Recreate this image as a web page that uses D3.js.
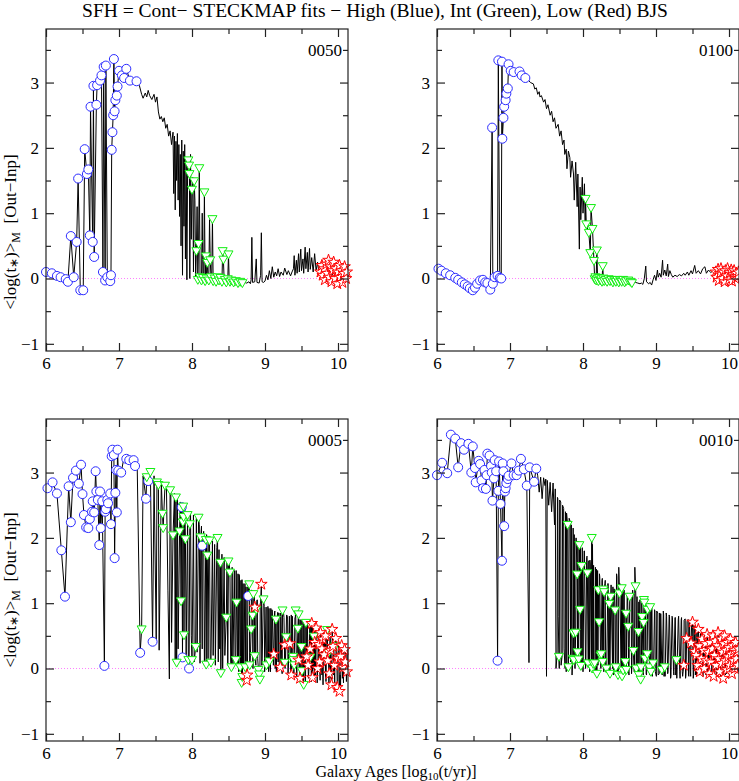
<!DOCTYPE html>
<meta charset="utf-8">
<style>
 body { margin: 0; background: #fff; }
 svg text { font-family: "Liberation Serif", "Times New Roman", serif; fill: #000; }
 .frame { fill: none; stroke: #222; stroke-width: 1.2; }
 .sfh { fill: none; stroke: #000; stroke-width: 1; stroke-linejoin: miter; }
 .zero { stroke: #ff80ff; stroke-width: 1; stroke-dasharray: 1,2; }
 .high { fill: #fff; stroke: #2c2cff; stroke-width: 1; }
 .mid { fill: #fff; stroke: #11ee11; stroke-width: 1; }
 .low { fill: #fff; stroke: #ff0000; stroke-width: 1; }
</style>
<body>
<script src="https://cdn.jsdelivr.net/npm/d3@7"></script>
<script>

// tick values
var xMajor = [6, 7, 8, 9, 10],
    xMinor = [6.5, 7.5, 8.5, 9.5],
    yMajor = [-1, 0, 1, 2, 3],
    yMinor = [-0.5, 0.5, 1.5, 2.5, 3.5];

// ---- 0050 : [log age, <log t>M out-inp] ----
var line0050 = [[7.28,2.95],[7.31,2.82],[7.33,2.76],[7.36,2.84],[7.38,2.78],[7.40,2.88],[7.42,2.80],[7.45,2.74],[7.48,2.82],[7.50,2.70],[7.52,2.78],[7.54,2.55],[7.56,2.44],[7.58,2.48],[7.60,2.40],[7.62,2.46],[7.64,2.30],[7.66,2.36],[7.68,2.18],[7.70,2.26],[7.72,2.05],[7.74,2.24],[7.75,1.30],[7.76,2.18],[7.77,1.05],[7.78,2.10],[7.79,1.50],[7.80,2.22],[7.81,1.20],[7.82,2.05],[7.83,0.95],[7.84,1.90],[7.85,0.50],[7.86,2.12],[7.87,0.05],[7.88,1.95],[7.89,0.80],[7.90,2.05],[7.91,0.30],[7.92,1.85],[7.93,-0.02],[7.94,1.70],[7.97,0.00],[7.98,1.90],[7.99,0.60],[8.01,1.55],[8.02,0.10],[8.04,1.20],[8.05,0.00],[8.07,1.10],[8.12,0.05],[8.14,1.00],[8.16,0.02],[8.22,0.02],[8.24,0.90],[8.27,0.00],[8.30,0.02],[8.44,0.00],[8.51,-0.04],
  [8.72,-0.06],[8.75,-0.07],[8.78,-0.05],[8.80,-0.08],[8.81,-0.02],[8.82,0.63],[8.83,-0.06],[8.86,-0.05],[8.88,0.30],[8.89,-0.06],[8.92,-0.07],[8.94,0.05],[8.95,0.70],[8.96,-0.05],[8.98,-0.06],[9.00,-0.04],[9.02,0.05],[9.04,-0.02],[9.06,0.12],[9.08,0.00],[9.10,0.18],[9.12,0.02],[9.14,0.10],[9.16,0.04],[9.18,0.15],[9.20,0.03],[9.22,0.10],[9.25,0.05],[9.27,0.16],[9.30,0.06],[9.32,0.12],[9.35,0.04],[9.37,0.10],[9.39,0.15],[9.40,0.35],[9.41,0.05],[9.43,0.28],[9.44,0.08],[9.46,0.38],[9.47,0.10],[9.49,0.45],[9.50,0.12],[9.52,0.30],[9.53,0.08],[9.55,0.48],[9.56,0.15],[9.58,0.40],[9.59,0.10],[9.61,0.46],[9.62,0.14],[9.64,0.32],[9.66,0.10],[9.68,0.38],[9.70,0.12],[9.72,0.25],[9.74,0.08]];
var high0050 = [[6.00,0.10],[6.08,0.08],[6.15,0.04],[6.20,0.02],[6.27,-0.01],[6.30,-0.05],[6.34,0.65],[6.38,0.02],[6.42,0.56],[6.44,1.53],[6.47,-0.18],[6.51,-0.18],[6.53,1.98],[6.56,1.60],[6.58,1.67],[6.60,0.66],[6.61,2.63],[6.64,0.56],[6.65,2.95],[6.66,0.33],[6.69,2.66],[6.70,2.96],[6.74,3.03],[6.76,3.11],[6.78,0.10],[6.79,3.24],[6.81,-0.03],[6.82,3.26],[6.84,0.02],[6.88,-0.04],[6.89,0.05],[6.90,1.97],[6.91,2.24],[6.92,2.50],[6.93,3.36],[6.94,2.56],[6.95,2.73],[6.97,2.80],[6.98,2.94],[7.00,3.18],[7.04,3.11],[7.07,3.07],[7.10,3.21],[7.15,3.03],[7.24,3.02]];
var mid0050 = [[7.95,1.81],[7.96,1.73],[7.965,1.60],[8.00,1.36],[8.03,1.49],[8.06,0.42],[8.08,-0.02],[8.09,0.53],[8.10,1.69],[8.11,0.02],[8.13,-0.03],[8.15,0.01],[8.17,1.32],[8.18,-0.04],[8.19,0.34],[8.20,0.00],[8.21,0.24],[8.23,-0.03],[8.25,0.28],[8.26,0.02],[8.28,0.91],[8.29,-0.04],[8.31,0.00],[8.33,-0.05],[8.35,0.02],[8.37,-0.03],[8.39,0.01],[8.41,-0.05],[8.42,0.42],[8.43,0.29],[8.45,-0.02],[8.47,-0.06],[8.49,-0.01],[8.50,0.37],[8.52,-0.05],[8.54,-0.03],[8.57,-0.06],[8.60,-0.04],[8.63,-0.07],[8.66,-0.05],[8.69,-0.07]];
var low0050 = [[9.76,0.10],[9.78,0.20],[9.79,0.05],[9.81,0.15],[9.82,-0.02],[9.84,0.22],[9.85,0.08],[9.87,0.28],[9.88,0.02],[9.90,0.18],[9.91,-0.05],[9.93,0.12],[9.94,0.25],[9.96,0.00],[9.97,0.15],[9.99,-0.08],[10.00,0.10],[10.02,0.20],[10.03,0.02],[10.05,0.12],[10.06,-0.06],[10.08,0.08],[10.09,0.18],[10.11,0.00],[10.12,0.10]];

// ---- 0100 ----
var line0100 = [[7.25,3.04],[7.28,3.00],[7.32,2.98],[7.34,2.90],[7.36,2.92],[7.38,2.82],[7.40,2.86],[7.41,2.78],[7.43,2.80],[7.46,2.70],[7.48,2.74],[7.50,2.60],[7.52,2.66],[7.55,2.50],[7.57,2.56],[7.59,2.40],[7.61,2.46],[7.63,2.30],[7.66,2.36],[7.68,2.18],[7.70,2.26],[7.72,2.05],[7.74,2.12],[7.75,1.90],[7.77,1.98],[7.78,1.68],[7.80,1.95],[7.82,1.85],[7.83,1.55],[7.85,1.80],[7.87,1.60],[7.88,1.20],[7.90,1.78],[7.92,1.10],[7.93,1.60],[7.95,0.45],[7.96,1.40],[7.97,0.90],[7.99,1.55],[8.00,1.00],[8.02,1.45],[8.03,0.80],
  [8.69,-0.05],[8.72,-0.06],[8.75,-0.07],[8.78,-0.08],[8.80,-0.07],[8.82,-0.09],[8.84,0.00],[8.86,0.19],[8.87,-0.05],[8.90,-0.08],[8.92,-0.06],[8.94,-0.10],[8.96,-0.02],[8.98,0.05],[9.00,-0.03],[9.02,0.13],[9.03,0.02],[9.05,0.08],[9.07,0.02],[9.09,0.28],[9.10,0.05],[9.12,0.13],[9.14,0.04],[9.16,0.22],[9.17,0.03],[9.19,0.12],[9.21,0.06],[9.23,0.02],[9.26,0.05],[9.29,0.03],[9.32,0.06],[9.35,0.04],[9.38,0.08],[9.40,0.05],[9.43,0.10],[9.45,0.05],[9.48,0.12],[9.50,0.07],[9.53,0.20],[9.55,0.08],[9.58,0.12],[9.61,0.07],[9.64,0.15],[9.67,0.18],[9.69,0.08],[9.72,0.13],[9.75,0.09],[9.78,0.12],[9.80,0.08]];
var high0100 = [[6.02,0.15],[6.06,0.12],[6.12,0.08],[6.18,0.05],[6.25,0.01],[6.29,-0.02],[6.34,-0.06],[6.38,-0.09],[6.42,-0.12],[6.45,-0.15],[6.49,-0.18],[6.52,-0.14],[6.55,-0.08],[6.59,-0.03],[6.63,-0.02],[6.66,-0.06],[6.69,-0.07],[6.73,-0.17],[6.755,2.31],[6.765,-0.08],[6.79,0.02],[6.83,0.04],[6.84,3.34],[6.86,0.01],[6.88,0.00],[6.89,3.32],[6.895,2.14],[6.91,2.46],[6.92,2.63],[6.94,2.73],[6.95,2.83],[6.97,2.91],[6.98,3.28],[7.01,3.18],[7.05,3.16],[7.13,3.17],[7.16,3.11],[7.21,3.07]];
var mid0100 = [[8.035,1.22],[8.045,0.83],[8.08,0.70],[8.10,0.39],[8.11,1.08],[8.13,0.76],[8.15,0.27],[8.16,-0.01],[8.17,0.02],[8.18,-0.03],[8.19,0.43],[8.20,0.00],[8.21,-0.04],[8.22,0.01],[8.24,-0.03],[8.25,-0.01],[8.26,-0.05],[8.27,0.19],[8.28,0.00],[8.29,-0.04],[8.31,-0.02],[8.33,-0.05],[8.35,-0.01],[8.37,-0.04],[8.39,-0.02],[8.41,-0.06],[8.43,-0.03],[8.45,-0.05],[8.47,-0.02],[8.49,-0.06],[8.51,-0.03],[8.53,-0.05],[8.55,-0.02],[8.57,-0.06],[8.59,-0.04],[8.62,-0.03],[8.65,-0.05],[8.67,-0.07]];
var low0100 = [[9.82,0.10],[9.83,0.02],[9.85,0.14],[9.86,-0.03],[9.88,0.08],[9.89,0.15],[9.91,0.00],[9.92,0.10],[9.94,-0.05],[9.95,0.12],[9.97,0.04],[9.98,0.15],[10.00,-0.02],[10.01,0.09],[10.03,0.13],[10.04,-0.04],[10.06,0.06],[10.07,0.12],[10.09,0.00],[10.10,0.08],[10.12,0.03],[10.13,0.10]];

// ---- 0005 ----
var line0005 = [[7.06,3.18],[7.17,3.20],[7.25,3.05],[7.33,2.95],[7.48,2.95],[7.51,0.45],[7.535,2.88],[7.55,0.28],[7.58,2.85],[7.65,2.78],[7.67,1.20],[7.69,-0.16],[7.71,2.70],[7.72,0.40],[7.76,2.68],[7.77,0.10],[7.80,2.60],[7.81,0.30],[7.84,2.55],[7.90,2.50],[7.92,0.20],[7.98,2.40],[7.99,0.50],[8.02,2.35],[8.03,0.10],[8.06,2.30],[8.07,0.25],[8.10,2.20],[8.11,0.08],[8.13,2.18],[8.14,0.30],[8.16,2.10],[8.17,0.05],[8.20,2.05],[8.22,0.15],[8.23,2.00],[8.25,0.10],[8.28,1.95],[8.29,0.20],[8.31,1.90],[8.32,0.05],[8.34,1.85],[8.36,0.10],[8.37,1.82],[8.38,0.30],[8.41,1.75],[8.42,0.00],[8.44,1.70],[8.45,0.20],[8.48,1.68],[8.49,0.05],[8.51,1.60],[8.53,0.10],[8.55,1.55],[8.56,0.00],[8.58,1.50],[8.59,0.15],[8.63,1.45],[8.64,-0.05],[8.65,1.40],[8.67,1.35],[8.70,1.30],[8.71,0.10],[8.74,1.25],[8.76,0.00],[8.78,1.30],[8.80,0.20],[8.82,1.20],[8.85,1.10],[8.87,0.10],[8.89,1.05],[8.90,0.15],[8.94,1.00],[8.96,0.05],[8.99,0.95],[9.00,0.10],[9.04,0.95],[9.05,-0.05],[9.08,0.92],[9.09,0.10],[9.10,0.88],[9.13,0.85],[9.14,0.00],[9.17,0.82],[9.18,0.10],[9.19,0.85],[9.22,0.80],[9.23,0.00],[9.26,0.78],[9.28,0.12],[9.31,0.80],[9.32,0.00],[9.36,0.82],[9.37,0.05],[9.41,0.78],[9.43,0.10],[9.48,0.75],[9.49,0.00],[9.52,0.72],[9.54,0.05],[9.58,0.70],[9.60,-0.05],[9.63,0.68],[9.66,0.00],[9.68,0.62],[9.69,-0.10],[9.71,0.60],[9.73,-0.05],[9.77,0.58],[9.78,-0.10],[9.80,0.55],[9.83,-0.12],[9.84,0.50],[9.89,0.48],[9.90,-0.15],[9.92,0.45],[9.94,-0.10],[9.98,0.42],[10.00,-0.20],[10.01,0.40],[10.03,-0.10],[10.05,0.38],[10.06,-0.15],[10.08,0.35],[10.10,-0.10],[10.11,0.30],[10.13,0.00],
  [8.605,1.50],[8.625,0.05],[8.645,1.44],[8.665,0.00],[8.685,1.36],[8.705,0.05],[8.725,1.30],[8.745,0.00],[8.765,1.25],[8.795,0.05],[8.815,1.20],[8.835,0.00],[8.855,1.12],[8.875,0.05],[8.895,1.05],[8.915,0.00],[8.935,1.00],[8.955,0.05],[8.975,0.96],[8.995,-0.05],[9.015,0.94],[9.035,0.00],[9.055,0.92],[9.075,-0.05],[9.095,0.90],[9.115,0.05],[9.135,0.88],[9.155,-0.05],[9.175,0.86],[9.195,0.00],[9.215,0.85],[9.235,-0.08],[9.255,0.84],[9.275,0.00],[9.295,0.82],[9.315,-0.10],[9.335,0.80],[9.355,-0.05],[9.375,0.80],[9.395,-0.10],[9.415,0.78],[9.435,-0.15],[9.455,0.76],[9.475,-0.10],[9.495,0.74],[9.515,-0.15],[9.535,0.72],[9.555,-0.20],[9.575,0.70],[9.595,-0.15],[9.615,0.68],[9.635,-0.20],[9.655,0.64],[9.675,-0.15],[9.695,0.60],[9.715,-0.22],[9.735,0.58],[9.755,-0.18],[9.775,0.55],[9.795,-0.25],[9.815,0.52],[9.835,-0.20],[9.855,0.50],[9.875,-0.25],[9.895,0.46],[9.915,-0.28],[9.935,0.44],[9.955,-0.22],[9.975,0.42],[9.995,-0.28],[10.015,0.40],[10.035,-0.30],[10.055,0.36],[10.075,-0.22],[10.095,0.34],[10.115,-0.20],[10.135,0.30]];
var high0005 = [[6.02,2.76],[6.09,2.85],[6.15,2.68],[6.21,1.81],[6.26,1.10],[6.31,2.79],[6.34,2.24],[6.37,2.92],[6.41,3.03],[6.45,2.83],[6.48,3.12],[6.50,2.67],[6.52,2.35],[6.55,2.16],[6.58,2.15],[6.60,2.29],[6.63,2.40],[6.64,2.56],[6.66,2.39],[6.68,3.02],[6.69,2.71],[6.71,2.58],[6.73,1.89],[6.74,2.71],[6.75,2.15],[6.77,2.56],[6.80,0.04],[6.81,2.40],[6.82,2.44],[6.84,2.58],[6.85,2.53],[6.88,2.68],[6.89,2.21],[6.90,3.25],[6.91,3.35],[6.93,3.27],[6.94,1.69],[6.95,2.69],[6.96,3.04],[6.97,2.39],[6.98,3.35],[6.99,3.03],[7.03,3.00],[7.10,3.21],[7.14,3.19],[7.20,3.19],[7.22,3.10],[7.29,0.24],[7.37,2.60],[7.40,2.87],[7.46,0.41],[7.86,2.47],[7.87,0.17],[7.96,0.00],[8.14,1.88],[8.77,1.11]];
var mid0005 = [[7.31,0.60],[7.38,2.93],[7.43,3.01],[7.52,2.85],[7.54,2.81],[7.595,2.37],[7.605,2.15],[7.63,2.80],[7.70,2.73],[7.74,2.04],[7.78,2.62],[7.79,0.09],[7.83,2.10],[7.85,1.03],[7.875,2.24],[7.88,2.48],[7.885,2.32],[7.89,0.51],[7.91,1.98],[7.94,2.35],[7.95,0.13],[7.97,2.21],[8.00,0.13],[8.05,0.33],[8.09,2.31],[8.12,2.01],[8.19,1.97],[8.195,0.06],[8.21,1.73],[8.24,1.96],[8.26,0.09],[8.35,2.00],[8.39,1.62],[8.395,-0.07],[8.47,0.78],[8.50,1.64],[8.52,1.47],[8.54,0.02],[8.60,0.13],[8.61,1.01],[8.66,0.02],[8.68,-0.22],[8.69,-0.13],[8.73,0.02],[8.785,1.29],[8.79,0.05],[8.81,0.60],[8.83,0.81],[8.84,1.14],[8.86,0.19],[8.88,0.90],[8.91,-0.02],[8.92,-0.09],[8.93,-0.17],[8.98,1.06],[9.02,0.05],[9.06,0.11],[9.15,0.75],[9.24,0.89],[9.27,0.09],[9.29,0.48],[9.385,0.18],[9.39,0.13],[9.40,0.05],[9.42,0.89],[9.45,0.61],[9.46,0.83],[9.50,0.33],[9.505,-0.04],[9.53,-0.25],[9.56,0.70],[9.62,0.17],[9.67,0.49],[9.85,0.59],[9.87,0.24],[9.96,0.34]];
var low0005 = [[8.75,-0.18],[8.755,-0.10],[8.86,0.94],[8.95,1.29],[9.12,0.22],[9.21,0.02],[9.27,0.36],[9.34,0.38],[9.36,-0.10],[9.46,0.13],[9.48,-0.15],[9.57,0.18],[9.59,0.05],[9.62,0.30],[9.64,0.69],[9.65,-0.14],[9.68,0.40],[9.70,0.62],[9.72,0.00],[9.74,0.37],[9.75,0.10],[9.76,0.55],[9.78,0.30],[9.79,0.45],[9.81,0.21],[9.83,0.50],[9.86,0.12],[9.88,-0.08],[9.90,0.28],[9.91,-0.25],[9.92,0.60],[9.93,0.34],[9.95,0.05],[9.97,0.46],[9.99,-0.29],[10.00,0.15],[10.02,-0.35],[10.04,0.19],[10.05,0.35],[10.07,0.02],[10.09,0.29],[10.10,0.10],[10.12,-0.05]];

// ---- 0010 ----
var line0010 = [[7.26,0.09],[7.38,2.95],[7.40,2.70],[7.42,2.93],[7.44,2.60],[7.46,2.92],[7.48,2.80],[7.49,2.90],[7.50,-0.12],[7.51,2.88],[7.53,2.50],[7.55,2.85],[7.57,2.40],[7.59,2.84],[7.61,2.20],[7.62,2.75],[7.63,0.00],[7.65,2.62],[7.66,0.80],[7.68,2.58],[7.70,0.05],[7.72,2.50],[7.74,0.30],[7.76,2.40],[7.77,-0.05],[7.81,2.30],[7.83,0.10],[7.84,2.20],[7.85,-0.10],[7.88,2.05],[7.89,0.00],[7.93,1.95],[7.99,1.85],[8.00,-0.05],[8.02,1.80],[8.04,0.10],[8.05,1.70],[8.08,1.65],[8.09,-0.05],[8.10,1.60],[8.13,1.90],[8.15,0.00],[8.17,1.55],[8.18,-0.08],[8.20,1.50],[8.23,1.40],[8.26,1.35],[8.30,1.30],[8.31,-0.05],[8.34,1.30],[8.35,0.00],[8.41,1.25],[8.42,-0.10],[8.43,1.20],[8.46,1.45],[8.47,0.00],[8.49,1.55],[8.52,0.05],[8.56,1.20],[8.57,-0.05],[8.61,1.15],[8.63,-0.10],[8.66,1.15],[8.67,0.05],[8.68,1.20],[8.70,-0.05],[8.71,1.55],[8.74,1.10],[8.75,-0.12],[8.78,1.05],[8.80,-0.05],[8.86,1.10],[8.87,-0.10],[8.90,1.00],[8.94,0.95],[8.95,-0.12],[8.98,0.90],[8.99,-0.05],[9.01,0.88],[9.03,-0.10],[9.05,0.85],[9.06,-0.05],[9.10,0.88],[9.11,-0.12],[9.14,0.85],[9.16,-0.08],[9.18,0.82],[9.20,-0.15],[9.22,0.80],[9.24,-0.05],[9.26,0.78],[9.27,-0.10],[9.31,0.80],[9.33,-0.15],[9.35,0.78],[9.36,-0.05],[9.40,0.76],[9.41,-0.10],[9.44,0.75],[9.45,-0.12],[9.46,0.70],[9.47,-0.05],[9.49,0.72],[9.51,-0.15],[9.52,0.68],[9.54,-0.10],[9.56,0.62],[9.61,0.58],[9.64,-0.12],[9.67,0.55],[9.71,-0.10],[9.76,0.50],[9.83,-0.12],[9.87,0.48],[9.95,-0.10],[10.00,0.45],[10.05,-0.05],[10.08,0.40],[10.12,0.00],
  [7.645,0.20],[7.655,2.60],[7.675,0.00],[7.695,2.55],[7.715,0.20],[7.735,2.45],[7.755,0.00],[7.775,2.38],[7.795,0.10],[7.825,2.25],[7.845,0.50],[7.865,2.15],[7.895,0.30],[7.905,2.00],[7.935,0.10],[7.965,1.90],[7.985,0.00],[8.015,1.80],[8.035,0.00],[8.055,1.72],[8.075,0.10],[8.095,1.66],[8.115,0.00],[8.145,1.58],[8.165,-0.05],[8.185,1.52],[8.205,0.05],[8.225,1.45],[8.245,0.00],[8.265,1.38],[8.285,-0.05],[8.305,1.35],[8.325,-0.05],[8.345,1.30],[8.365,0.05],[8.385,1.28],[8.405,0.00],[8.425,1.22],[8.445,0.00],[8.465,1.40],[8.485,0.00],[8.505,1.30],[8.525,0.00],[8.545,1.22],[8.565,1.20],[8.585,-0.05],[8.605,1.15],[8.625,-0.05],[8.645,1.12],[8.665,-0.08],[8.685,1.10],[8.705,-0.05],[8.725,1.05],[8.745,0.00],[8.765,1.02],[8.785,-0.08],[8.805,1.00],[8.825,-0.10],[8.845,0.95],[8.865,-0.08],[8.895,0.92],[8.915,-0.10],[8.945,0.90],[8.965,-0.05],[8.985,0.88],[9.005,-0.12],[9.025,0.85],[9.045,-0.08],[9.065,0.84],[9.085,-0.10],[9.105,0.82],[9.125,-0.12],[9.145,0.80],[9.165,-0.05],[9.185,0.80],[9.205,-0.12],[9.225,0.78],[9.245,-0.10],[9.265,0.78],[9.285,-0.15],[9.305,0.75],[9.325,-0.05],[9.345,0.74],[9.365,-0.12],[9.385,0.74],[9.405,-0.15],[9.425,0.72],[9.445,-0.10],[9.455,0.70],[9.475,-0.12],[9.495,0.66],[9.515,-0.10],[9.535,0.62],[9.555,-0.12],[9.575,0.58],[9.595,-0.10],[9.625,0.55],[9.645,-0.12],[9.665,0.50],[9.685,-0.10],[9.705,0.48],[9.725,-0.12],[9.745,0.45],[9.765,-0.08],[9.785,0.42],[9.805,-0.12],[9.825,0.40],[9.845,-0.10],[9.865,0.38],[9.885,-0.12],[9.905,0.36],[9.925,-0.10],[9.945,0.35],[9.965,-0.08],[9.985,0.34],[10.005,-0.10],[10.025,0.32],[10.045,-0.08],[10.065,0.30],[10.085,-0.05],[10.105,0.28],[10.125,-0.05]];
var high0010 = [[6.00,2.96],[6.07,3.15],[6.14,2.99],[6.19,3.58],[6.25,3.52],[6.29,3.08],[6.33,3.45],[6.37,3.35],[6.43,3.44],[6.47,3.00],[6.49,3.40],[6.52,3.07],[6.53,2.85],[6.57,3.18],[6.59,3.13],[6.61,2.88],[6.63,2.76],[6.65,3.04],[6.67,2.75],[6.68,2.96],[6.69,3.29],[6.72,3.26],[6.74,3.10],[6.75,3.00],[6.76,2.57],[6.78,2.91],[6.79,3.19],[6.81,3.02],[6.83,0.12],[6.84,2.72],[6.85,3.17],[6.87,2.52],[6.89,1.65],[6.90,3.14],[6.91,3.02],[6.92,2.18],[6.93,2.71],[6.94,2.76],[6.95,2.84],[6.97,2.90],[6.98,2.95],[7.02,3.14],[7.05,2.96],[7.09,2.96],[7.12,3.03],[7.15,3.21],[7.19,3.05],[7.23,2.80],[7.27,3.08],[7.33,2.86],[7.36,3.06]];
var mid0010 = [[7.67,0.18],[7.79,2.20],[7.80,0.02],[7.86,0.15],[7.87,0.54],[7.875,0.13],[7.90,0.55],[7.92,1.44],[7.925,0.25],[7.94,0.14],[7.95,1.89],[7.96,0.90],[7.97,0.04],[7.98,1.57],[8.06,1.46],[8.07,0.08],[8.12,2.00],[8.125,0.00],[8.14,0.07],[8.16,0.08],[8.19,-0.08],[8.21,1.20],[8.22,0.71],[8.24,0.20],[8.25,0.22],[8.27,0.10],[8.28,1.21],[8.29,1.17],[8.32,0.00],[8.36,0.99],[8.37,-0.08],[8.38,1.10],[8.44,0.89],[8.45,0.02],[8.48,-0.10],[8.50,1.15],[8.53,1.23],[8.535,-0.12],[8.55,-0.03],[8.58,0.10],[8.59,0.84],[8.595,-0.02],[8.62,0.64],[8.64,1.10],[8.69,0.27],[8.72,1.26],[8.73,0.00],[8.76,0.56],[8.765,-0.10],[8.79,-0.17],[8.795,0.02],[8.81,0.79],[8.83,0.70],[8.835,1.05],[8.84,1.01],[8.85,0.15],[8.88,0.22],[8.885,0.90],[8.91,0.02],[8.92,0.94],[8.93,-0.05],[8.96,0.08],[9.08,-0.02],[9.12,0.02],[9.28,0.13]];
var low0010 = [[9.38,0.05],[9.42,0.46],[9.48,0.39],[9.50,0.71],[9.53,0.26],[9.55,0.20],[9.57,0.05],[9.58,0.60],[9.59,0.35],[9.60,-0.05],[9.62,0.15],[9.63,0.45],[9.65,0.28],[9.66,0.00],[9.68,0.38],[9.69,0.12],[9.70,0.52],[9.72,0.25],[9.73,-0.08],[9.74,0.40],[9.75,0.10],[9.77,0.30],[9.78,0.50],[9.79,-0.12],[9.80,0.20],[9.81,0.42],[9.82,0.05],[9.84,0.35],[9.85,0.55],[9.86,0.15],[9.87,-0.05],[9.88,0.30],[9.89,0.45],[9.90,0.08],[9.91,0.25],[9.92,-0.15],[9.93,0.38],[9.94,0.50],[9.95,0.12],[9.96,0.28],[9.97,-0.02],[9.98,0.40],[9.99,0.18],[10.00,0.32],[10.01,0.05],[10.02,0.45],[10.03,0.22],[10.04,-0.08],[10.05,0.35],[10.06,0.12],[10.07,0.28],[10.08,0.00],[10.09,0.40],[10.10,0.15],[10.11,0.25],[10.12,0.05],[10.13,0.30]];

var panelW = 302, panelH = 322;

var panels = [
  {name: "0050", left: 46,  top: 29,  line: line0050, high: high0050, mid: mid0050, low: low0050},
  {name: "0100", left: 437, top: 29,  line: line0100, high: high0100, mid: mid0100, low: low0100},
  {name: "0005", left: 46,  top: 419, line: line0005, high: high0005, mid: mid0005, low: low0005},
  {name: "0010", left: 437, top: 419, line: line0010, high: high0010, mid: mid0010, low: low0010}
];

var svg = d3.select("body").append("svg")
            .attr("width", 739)
            .attr("height", 781)
            .attr("font-family", "'Liberation Serif', 'Times New Roman', serif");

var fmt = d3.format("d");
var triDown = "M-4.5,-3.4L4.5,-3.4L0,4.5Z";
var star = d3.symbol().type(d3.symbolStar).size(42)();

panels.forEach(function(p) {
    var x = d3.scaleLinear().domain([6, 10.137]).range([0, panelW]);
    var y = d3.scaleLinear().domain([-1.11, 3.82]).range([panelH, 0]);

    var g = svg.append("g")
               .attr("transform", "translate(" + p.left + "," + p.top + ")");

    // zero reference
    g.append("line")
     .attr("class", "zero")
     .attr("x1", x(6)).attr("x2", x(10.137))
     .attr("y1", y(0)).attr("y2", y(0));

    // all points joined in age order
    var pts = p.line.concat(p.high, p.mid, p.low)
                    .sort(function(a, b) { return a[0] - b[0]; });

    g.append("path")
     .datum(pts)
     .attr("class", "sfh")
     .attr("d", d3.line()
                  .x(function(d) { return x(d[0]); })
                  .y(function(d) { return y(d[1]); }));

    g.selectAll(".high").data(p.high).enter().append("circle")
     .attr("class", "high")
     .attr("cx", function(d) { return x(d[0]); })
     .attr("cy", function(d) { return y(d[1]); })
     .attr("r", 4.5);

    g.selectAll(".mid").data(p.mid).enter().append("path")
     .attr("class", "mid")
     .attr("d", triDown)
     .attr("transform", function(d) { return "translate(" + x(d[0]) + "," + y(d[1]) + ")"; });

    g.selectAll(".low").data(p.low).enter().append("path")
     .attr("class", "low")
     .attr("d", star)
     .attr("transform", function(d) { return "translate(" + x(d[0]) + "," + y(d[1]) + ")"; });

    // ticks, all pointing inwards
    function addAxis(axis, tx, ty, labels) {
        var a = g.append("g")
                 .attr("transform", "translate(" + tx + "," + ty + ")")
                 .call(axis);
        a.attr("font-family", null).attr("font-size", 17).attr("color", "#222");
        a.select(".domain").remove();
        a.selectAll("line").attr("stroke-width", 1.2);
        if (!labels) a.selectAll("text").remove();
    }

    addAxis(d3.axisBottom(x).tickValues(xMajor).tickSize(-8).tickPadding(6).tickFormat(fmt), 0, panelH, true);
    addAxis(d3.axisBottom(x).tickValues(xMinor).tickSize(-5), 0, panelH, false);
    addAxis(d3.axisTop(x).tickValues(xMajor).tickSize(-8), 0, 0, false);
    addAxis(d3.axisTop(x).tickValues(xMinor).tickSize(-5), 0, 0, false);
    addAxis(d3.axisLeft(y).tickValues(yMajor).tickSize(-8).tickPadding(7).tickFormat(fmt), 0, 0, true);
    addAxis(d3.axisLeft(y).tickValues(yMinor).tickSize(-5), 0, 0, false);
    addAxis(d3.axisRight(y).tickValues(yMajor).tickSize(-8), panelW, 0, false);
    addAxis(d3.axisRight(y).tickValues(yMinor).tickSize(-5), panelW, 0, false);

    g.append("rect")
     .attr("class", "frame")
     .attr("width", panelW)
     .attr("height", panelH);

    g.append("text")
     .attr("x", panelW - 6)
     .attr("y", y(3.5) + 6)
     .attr("text-anchor", "end")
     .attr("font-size", 17)
     .text(p.name);
});

// title
svg.append("text")
   .attr("x", 375)
   .attr("y", 17)
   .attr("text-anchor", "middle")
   .attr("font-size", 19.5)
   .text("SFH = Cont\u2212 STECKMAP fits \u2212 High (Blue), Int (Green), Low (Red) BJS");

// x axis title
var xt = svg.append("text")
            .attr("x", 396)
            .attr("y", 777)
            .attr("text-anchor", "middle")
            .attr("font-size", 16);
xt.append("tspan").text("Galaxy Ages [log");
xt.append("tspan").attr("font-size", 11).attr("dy", 2.5).text("10");
xt.append("tspan").attr("dy", -2.5).text("(t/yr)]");

// y axis titles
function yTitle(cy) {
    var t = svg.append("text")
               .attr("transform", "translate(16," + cy + ") rotate(-90)")
               .attr("text-anchor", "middle")
               .attr("font-size", 17);
    t.append("tspan").text("<log(t");
    t.append("tspan").attr("font-size", 12).attr("dy", 2).text("\u2217");
    t.append("tspan").attr("dy", -2).text(")>");
    t.append("tspan").attr("font-size", 12).attr("dy", 4).text("M");
    t.append("tspan").attr("dy", -4).text("\u00a0\u00a0[Out\u2212Inp]");
}
yTitle(232);
yTitle(590);

</script>
